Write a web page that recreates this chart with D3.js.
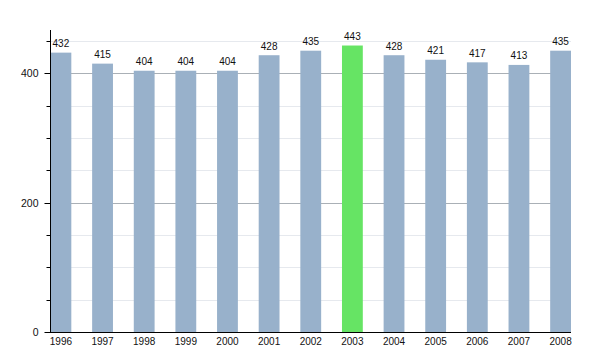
<!DOCTYPE html>
<html>
<head>
<meta charset="utf-8">
<script src="https://cdn.jsdelivr.net/npm/d3@7"></script>
<style>
  html, body { margin: 0; padding: 0; background: #fff; }
  svg { display: block; font-family: "Liberation Sans", Arial, sans-serif; }
</style>
</head>
<body>
<svg id="chart" width="600" height="350"></svg>
<script>
// Yearly values, one per year
const years = ["1996", "1997", "1998", "1999", "2000", "2001", "2002", "2003", "2004", "2005", "2006", "2007", "2008"];
const values = [432, 415, 404, 404, 404, 428, 435, 443, 428, 421, 417, 413, 435];
const highlightYear = "2003";
const majorTicks = [0, 200, 400];
const minorTicks = [50, 100, 150, 250, 300, 350, 450];

const svg = d3.select("#chart");
const plotLeft = 50, plotRight = 571, plotTop = 30, plotBottom = 332;

const x = d3.scaleBand().domain(years).range([plotLeft + 0.5, plotRight])
  .paddingInner(0.5).paddingOuter(0);
const y = d3.scaleLinear().domain([0, 467]).range([plotBottom, plotTop]);
const py = d => Math.round(y(d)) + 0.5;

// Light grid every 50
svg.append("g").selectAll("line").data(minorTicks).join("line")
  .attr("x1", plotLeft).attr("x2", plotRight)
  .attr("y1", py).attr("y2", py)
  .attr("stroke", "#e6e9ee").attr("stroke-width", 1);

// Stronger grid at labelled ticks
svg.append("g").selectAll("line").data(majorTicks.filter(d => d > 0)).join("line")
  .attr("x1", plotLeft).attr("x2", plotRight)
  .attr("y1", py).attr("y2", py)
  .attr("stroke", "#aab0b6").attr("stroke-width", 1);

// Bars
svg.append("g").selectAll("rect").data(years).join("rect")
  .attr("x", d => x(d))
  .attr("width", x.bandwidth())
  .attr("y", (d, i) => y(values[i]))
  .attr("height", (d, i) => y(0) - y(values[i]))
  .attr("fill", d => d === highlightYear ? "#66e464" : "#98b1cb");

// Value labels
svg.append("g").selectAll("text").data(years).join("text")
  .attr("x", d => x(d) + x.bandwidth() / 2)
  .attr("y", (d, i) => y(values[i]) - 5.5)
  .attr("text-anchor", "middle")
  .attr("font-size", 10)
  .attr("fill", "#111")
  .text((d, i) => values[i]);

// Y axis
const yAxis = svg.append("g").attr("transform", `translate(${plotLeft + 0.5},0)`);
yAxis.append("line").attr("x1", 0).attr("x2", 0).attr("y1", plotTop).attr("y2", plotBottom)
  .attr("stroke", "#000");
yAxis.append("g").selectAll("line").data(minorTicks).join("line")
  .attr("x1", -4).attr("x2", 0)
  .attr("y1", py).attr("y2", py)
  .attr("stroke", "#000");
yAxis.append("g").selectAll("line").data(majorTicks).join("line")
  .attr("x1", -6).attr("x2", 0)
  .attr("y1", py).attr("y2", py)
  .attr("stroke", "#000");
yAxis.append("g").selectAll("text").data(majorTicks).join("text")
  .attr("x", -12).attr("y", d => y(d) + 4)
  .attr("text-anchor", "end").attr("font-size", 10.5).attr("fill", "#111")
  .text(d => d);

// X axis
const xAxis = svg.append("g").attr("transform", `translate(0,${plotBottom + 0.5})`);
xAxis.append("line").attr("x1", plotLeft - 5).attr("x2", plotRight).attr("y1", 0).attr("y2", 0)
  .attr("stroke", "#000").attr("stroke-width", 1.2);
xAxis.selectAll("text").data(years).join("text")
  .attr("x", d => x(d) + x.bandwidth() / 2)
  .attr("y", 12)
  .attr("text-anchor", "middle").attr("font-size", 10).attr("fill", "#111")
  .text(d => d);
</script>
</body>
</html>
